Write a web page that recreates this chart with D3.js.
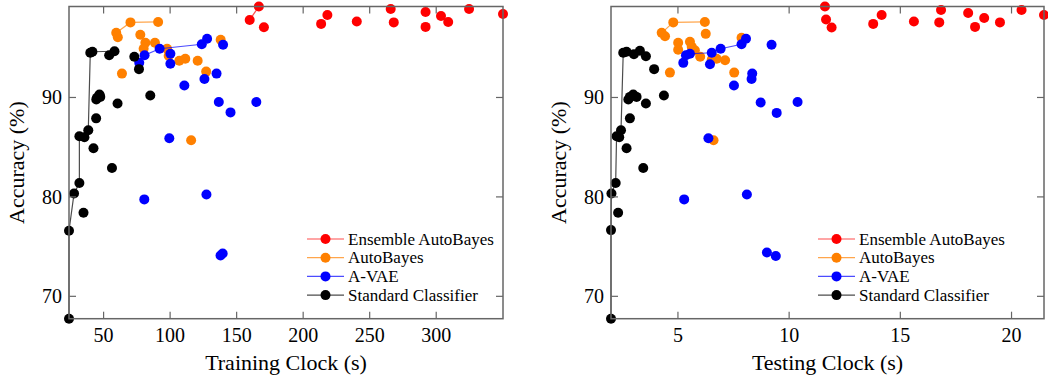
<!DOCTYPE html>
<html>
<head>
<meta charset="utf-8">
<script src="https://cdn.jsdelivr.net/npm/d3@7"></script>
<style>
  body { margin: 0; background: #fff; }
  svg { display: block; font-family: "Liberation Serif", "Times New Roman", serif; }
</style>
</head>
<body>
<svg id="chart" width="1048" height="375"></svg>
<script>
const seriesNames = ['Ensemble AutoBayes', 'AutoBayes', 'A-VAE', 'Standard Classifier'];
const seriesColors = ['#ff0000', '#ff8000', '#0000ff', '#000000'];

// [training clock (s), accuracy (%)]
const ensembleTrain = [[159.8, 97.8], [166.7, 99.15], [170.5, 97.06], [213.5, 97.4], [218.2, 98.3], [240.3, 97.65], [265.8, 98.9], [268.1, 97.55], [292, 97.1], [292, 98.6], [303.6, 98.2], [309, 97.6], [324.7, 98.9], [350.2, 98.4]];
const autoBayesTrain = [[59.5, 96.5], [60.7, 96.05], [63.8, 92.4], [70.2, 97.55], [77.6, 96.3], [80.1, 94.9], [81.4, 95.5], [88.6, 95.5], [91, 97.6], [97.7, 94.9], [98.9, 94.2], [106.9, 93.7], [111.4, 93.9], [115.8, 85.7], [120.7, 93.7], [127.1, 92.6], [138, 95.8]];
const avaeTrain = [[76.8, 93.5], [80.8, 94.25], [80.6, 79.75], [92.1, 94.9], [99.4, 85.9], [100.2, 94.4], [100.2, 93.4], [110.7, 91.2], [123.8, 95.35], [125.8, 91.85], [127.3, 80.25], [127.8, 95.9], [134.9, 92.4], [136.6, 89.55], [137.9, 74.1], [139.5, 74.3], [139.8, 95.3], [145.4, 88.5], [164.8, 89.55]];
const standardTrain = [[24, 67.75], [24, 76.6], [27.8, 80.35], [31.8, 81.4], [31.8, 86.1], [34.9, 78.4], [35.6, 86.0], [38.5, 86.7], [40, 94.5], [41.6, 94.6], [42.4, 84.9], [44.4, 87.9], [44.5, 89.8], [45, 89.96], [46.9, 90.3], [47.5, 90.06], [54.2, 94.25], [56.3, 82.9], [58.2, 94.65], [60.5, 89.4], [73.1, 94.1], [76.6, 92.85], [85.1, 90.2]];

// [testing clock (s), accuracy (%)]
const ensembleTest = [[11.61, 99.15], [11.66, 97.85], [11.91, 97.03], [13.78, 97.4], [14.16, 98.3], [15.61, 97.65], [16.75, 97.55], [16.83, 98.8], [18.05, 98.5], [18.36, 97.1], [18.77, 98.0], [19.48, 97.55], [20.45, 98.8], [21.46, 98.3]];
const autoBayesTest = [[4.27, 96.5], [4.42, 96.15], [4.64, 92.5], [4.79, 97.55], [5.01, 95.5], [5.01, 94.8], [5.54, 95.6], [5.62, 95.1], [5.76, 94.75], [6.0, 94.1], [6.21, 97.6], [6.25, 96.4], [6.52, 93.8], [6.6, 85.7], [6.74, 93.9], [7.12, 93.75], [7.53, 92.5], [7.86, 96.0]];
const avaeTest = [[5.24, 93.48], [5.28, 79.75], [5.36, 94.25], [5.54, 94.4], [6.37, 85.9], [6.44, 93.35], [6.52, 94.5], [6.92, 94.9], [7.52, 91.2], [7.86, 95.35], [8.06, 95.9], [8.1, 80.25], [8.31, 91.85], [8.34, 92.4], [8.72, 89.5], [9.0, 74.4], [9.21, 95.3], [9.4, 74.05], [9.44, 88.45], [10.38, 89.55]];
const standardTest = [[1.99, 67.75], [1.99, 76.66], [2.01, 80.35], [2.2, 81.4], [2.24, 86.1], [2.31, 78.4], [2.36, 86.0], [2.44, 86.7], [2.54, 94.5], [2.69, 94.6], [2.69, 84.9], [2.77, 89.8], [2.84, 90.06], [2.84, 87.9], [2.99, 90.3], [3.02, 94.35], [3.14, 90.06], [3.29, 94.7], [3.44, 82.9], [3.56, 94.15], [3.56, 89.4], [3.93, 92.85], [4.37, 90.2]];

const trainTicks = [50, 100, 150, 200, 250, 300];
const testTicks = [5, 10, 15, 20];
const accTicks = [70, 80, 90];

const panels = [
  { series: [ensembleTrain, autoBayesTrain, avaeTrain, standardTrain], xTicks: trainTicks,
    xLabel: 'Training Clock (s)', left: 69, right: 503, legendX: 307, yLabelX: 24 },
  { series: [ensembleTest, autoBayesTest, avaeTest, standardTest], xTicks: testTicks,
    xLabel: 'Testing Clock (s)', left: 611, right: 1044, legendX: 818, yLabelX: 566 }
];

const plotTop = 6.5, plotBottom = 318.7;
const svg = d3.select('#chart');
const axisColor = '#666';
const tickLen = 7;

// points that no faster point beats in accuracy
function frontier(points) {
  const sorted = points.slice().sort((a, b) => a[0] - b[0] || a[1] - b[1]);
  let best = -Infinity;
  return sorted.filter(p => {
    if (p[1] > best) { best = p[1]; return true; }
    return false;
  });
}

panels.forEach(panel => {
  const all = panel.series.flat();
  const x = d3.scaleLinear().domain(d3.extent(all, d => d[0])).range([panel.left, panel.right]);
  const y = d3.scaleLinear().domain(d3.extent(all, d => d[1])).range([plotBottom, plotTop]);

  const g = svg.append('g');

  panel.series.forEach((pts, i) => {
    const color = seriesColors[i];
    g.append('path')
      .datum(frontier(pts))
      .attr('fill', 'none')
      .attr('stroke', color)
      .attr('stroke-opacity', 0.7)
      .attr('stroke-width', 1.2)
      .attr('d', d3.line().x(d => x(d[0])).y(d => y(d[1])));
    g.append('g').selectAll('circle')
      .data(pts)
      .join('circle')
      .attr('cx', d => x(d[0]))
      .attr('cy', d => y(d[1]))
      .attr('r', 5)
      .attr('fill', color);
  });

  // frame
  g.append('rect')
    .attr('x', panel.left).attr('y', plotTop)
    .attr('width', panel.right - panel.left).attr('height', plotBottom - plotTop)
    .attr('fill', 'none').attr('stroke', axisColor).attr('stroke-width', 1.5);

  // inner ticks on all four sides
  panel.xTicks.forEach(t => {
    g.append('line').attr('x1', x(t)).attr('x2', x(t)).attr('y1', plotBottom).attr('y2', plotBottom - tickLen)
      .attr('stroke', axisColor).attr('stroke-width', 1.2);
    g.append('line').attr('x1', x(t)).attr('x2', x(t)).attr('y1', plotTop).attr('y2', plotTop + tickLen)
      .attr('stroke', axisColor).attr('stroke-width', 1.2);
    g.append('text').attr('x', x(t)).attr('y', plotBottom + 23)
      .attr('text-anchor', 'middle').attr('font-size', 20).text(t);
  });
  accTicks.forEach(t => {
    g.append('line').attr('x1', panel.left).attr('x2', panel.left + tickLen).attr('y1', y(t)).attr('y2', y(t))
      .attr('stroke', axisColor).attr('stroke-width', 1.2);
    g.append('line').attr('x1', panel.right).attr('x2', panel.right - tickLen).attr('y1', y(t)).attr('y2', y(t))
      .attr('stroke', axisColor).attr('stroke-width', 1.2);
    g.append('text').attr('x', panel.left - 7).attr('y', y(t) + 7)
      .attr('text-anchor', 'end').attr('font-size', 20).text(t);
  });

  g.append('text')
    .attr('x', (panel.left + panel.right) / 2).attr('y', 370)
    .attr('text-anchor', 'middle').attr('font-size', 22).text(panel.xLabel);
  g.append('text')
    .attr('transform', `translate(${panel.yLabelX},${(plotTop + plotBottom) / 2}) rotate(-90)`)
    .attr('text-anchor', 'middle').attr('font-size', 22).text('Accuracy (%)');

  // legend
  const leg = g.append('g').attr('transform', `translate(${panel.legendX},239)`);
  seriesNames.forEach((name, i) => {
    const row = leg.append('g').attr('transform', `translate(0,${i * 18.7})`);
    row.append('line').attr('x1', 0).attr('x2', 37).attr('y1', 0).attr('y2', 0)
      .attr('stroke', seriesColors[i]).attr('stroke-opacity', 0.7).attr('stroke-width', 1.2);
    row.append('circle').attr('cx', 18.5).attr('cy', 0).attr('r', 5).attr('fill', seriesColors[i]);
    row.append('text').attr('x', 41).attr('y', 5.5).attr('font-size', 17).text(name);
  });
});
</script>
</body>
</html>
